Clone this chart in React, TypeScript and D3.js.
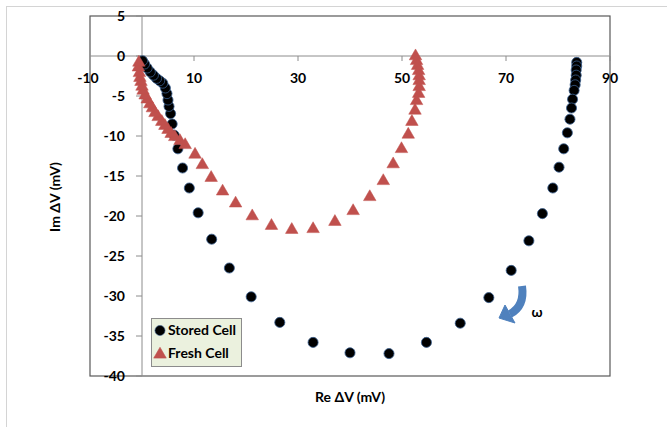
import React, { useEffect, useRef } from 'react';
import * as d3 from 'd3';

// Stored cell (Re, Im) in mV, from low frequency (right) round to the origin
const storedRe = [
	83.6, 83.6, 83.5, 83.5, 83.4, 83.3, 83.1, 82.8, 82.6, 82.3, 81.8, 81.1, 80.2,
	79.0, 77.0, 74.4, 71.0, 66.7, 61.2, 54.7, 47.5, 40.0, 32.9, 26.5, 21.0, 16.8,
	13.4, 10.8, 9.1, 7.8, 6.9, 6.2, 5.8, 5.5, 5.2, 5.0, 4.8, 4.5, 4.0, 3.4, 2.8,
	2.2, 1.6, 1.0, 0.5, 0.1,
];
const storedIm = [
	-0.8, -1.25, -1.75, -2.4, -3.0, -3.6, -4.3, -5.4, -6.5, -7.9, -9.6, -11.6,
	-13.9, -16.5, -19.7, -23.1, -26.8, -30.2, -33.4, -35.8, -37.2, -37.1, -35.8,
	-33.3, -30.1, -26.5, -22.9, -19.6, -16.5, -14.0, -11.6, -9.9, -8.5, -7.2,
	-6.3, -5.5, -4.7, -4.0, -3.4, -3.1, -2.8, -2.4, -2.0, -1.5, -1.0, -0.6,
];

// Fresh cell (Re, Im) in mV
const freshRe = [
	52.6, 52.8, 53.0, 53.2, 53.3, 53.3, 53.3, 53.2, 52.8, 52.5, 51.9, 51.2, 49.9,
	48.3, 46.4, 43.8, 40.6, 37.1, 32.9, 28.8, 24.9, 21.2, 18.0, 15.5, 13.3, 11.6,
	10.2, 8.3, 7.3, 6.3, 5.6, 5.0, 4.4, 3.8, 3.1, 2.5, 2.0, 1.5, 1.0, 0.6, 0.2,
	0.0, -0.2, -0.4, -0.5, -0.7, -0.6,
];
const freshIm = [
	0.1, -0.5, -1.1, -1.75, -2.4, -3.0, -3.75, -4.6, -5.5, -6.7, -8.1, -9.7,
	-11.5, -13.4, -15.5, -17.5, -19.25, -20.6, -21.5, -21.6, -21.1, -19.9, -18.3,
	-16.8, -15.1, -13.5, -12.2, -11.0, -10.5, -10.0, -9.6, -9.1, -8.6, -8.1, -7.5,
	-7.0, -6.4, -5.9, -5.3, -4.8, -4.2, -3.7, -3.1, -2.6, -2.0, -1.3, -0.7,
];

const xTicks = [-10, 10, 30, 50, 70, 90];
const yTicks = [5, 0, -5, -10, -15, -20, -25, -30, -35, -40];
const seriesNames = ['Stored Cell', 'Fresh Cell'];

const App: React.FC = () => {
	const ref = useRef<SVGSVGElement>(null);

	const width = 667;
	const height = 427;
	const font = 'Lato, "Open Sans", sans-serif';
	const fontSize = '14px';

	useEffect(() => {
		if (!ref.current) return;
		const svg = d3.select(ref.current);
		svg.selectAll('*').remove();

		const x = d3.scaleLinear().domain([-10, 90]).range([90, 610]);
		const y = d3.scaleLinear().domain([5, -40]).range([16, 376]);

		// outer chart frame
		svg
			.append('rect')
			.attr('x', 6.5)
			.attr('y', 6.5)
			.attr('width', 720)
			.attr('height', 460)
			.attr('fill', 'white')
			.attr('stroke', '#d4d4d4');

		// plot area border
		svg
			.append('rect')
			.attr('x', x(-10))
			.attr('y', y(5))
			.attr('width', x(90) - x(-10))
			.attr('height', y(-40) - y(5))
			.attr('fill', 'none')
			.attr('stroke', '#595959')
			.attr('stroke-width', 1.2);

		// axes crossing at 0
		const axisColor = '#8c8c8c';
		svg
			.append('line')
			.attr('x1', x(-10))
			.attr('x2', x(90))
			.attr('y1', y(0))
			.attr('y2', y(0))
			.attr('stroke', axisColor);
		svg
			.append('line')
			.attr('x1', x(0))
			.attr('x2', x(0))
			.attr('y1', y(5))
			.attr('y2', y(-40))
			.attr('stroke', axisColor);

		// x ticks + labels
		xTicks.forEach((t) => {
			if (t > -10) {
				svg
					.append('line')
					.attr('x1', x(t))
					.attr('x2', x(t))
					.attr('y1', y(0))
					.attr('y2', y(0) + 5)
					.attr('stroke', axisColor);
			}
			svg
				.append('text')
				.attr('x', x(t) - (t < 0 ? 2 : 0))
				.attr('y', y(0) + 22)
				.attr('dy', '0.35em')
				.attr('text-anchor', 'middle')
				.attr('font-family', font)
				.attr('font-weight', 'bold')
				.attr('font-size', fontSize)
				.attr('fill', '#000')
				.text(t);
		});

		// y ticks + labels
		yTicks.forEach((t) => {
			svg
				.append('line')
				.attr('x1', x(0) - 6)
				.attr('x2', x(0))
				.attr('y1', y(t))
				.attr('y2', y(t))
				.attr('stroke', axisColor);
			svg
				.append('text')
				.attr('x', 125)
				.attr('y', y(t))
				.attr('dy', '0.35em')
				.attr('text-anchor', 'end')
				.attr('font-family', font)
				.attr('font-weight', 'bold')
				.attr('font-size', fontSize)
				.attr('fill', '#000')
				.text(t);
		});

		// axis titles
		svg
			.append('text')
			.attr('transform', 'translate(55,197) rotate(-90)')
			.attr('dy', '0.35em')
			.attr('text-anchor', 'middle')
			.attr('font-family', font)
			.attr('font-weight', 'bold')
			.attr('font-size', fontSize)
			.text('Im ΔV (mV)');
		svg
			.append('text')
			.attr('x', 350)
			.attr('y', 397)
			.attr('dy', '0.35em')
			.attr('text-anchor', 'middle')
			.attr('font-family', font)
			.attr('font-weight', 'bold')
			.attr('font-size', fontSize)
			.text('Re ΔV (mV)');

		const stored = storedRe.map((re, i) => [re, storedIm[i]]);
		const fresh = freshRe.map((re, i) => [re, freshIm[i]]);

		const circle = d3.symbol().type(d3.symbolCircle).size(80);
		const triangle = d3.symbol().type(d3.symbolTriangle).size(68);

		svg
			.append('g')
			.selectAll('path')
			.data(stored)
			.enter()
			.append('path')
			.attr('d', circle)
			.attr('transform', (d) => `translate(${x(d[0])},${y(d[1])})`)
			.attr('fill', '#000')
			.attr('stroke', '#3a5f8f')
			.attr('stroke-width', 0.8);

		svg
			.append('g')
			.selectAll('path')
			.data(fresh)
			.enter()
			.append('path')
			.attr('d', triangle)
			.attr('transform', (d) => `translate(${x(d[0])},${y(d[1]) + 1})`)
			.attr('fill', '#c0504d')
			.attr('stroke', '#c0504d')
			.attr('stroke-width', 0.5);

		// frequency arrow
		const arrow = svg.append('g');
		arrow
			.append('path')
			.attr('d', 'M522,286 Q525,306 510,314')
			.attr('fill', 'none')
			.attr('stroke', '#4f81bd')
			.attr('stroke-width', 8);
		arrow
			.append('path')
			.attr('d', 'M499,318 L505,305 L515,323 Z')
			.attr('fill', '#4f81bd')
			.attr('stroke', '#4f81bd')
			.attr('stroke-width', 1);
		svg
			.append('text')
			.attr('x', 537)
			.attr('y', 312)
			.attr('dy', '0.35em')
			.attr('text-anchor', 'middle')
			.attr('font-family', font)
			.attr('font-weight', 'bold')
			.attr('font-size', fontSize)
			.text('ω');

		// legend
		const legend = svg.append('g');
		legend
			.append('rect')
			.attr('x', 151.5)
			.attr('y', 318.5)
			.attr('width', 90)
			.attr('height', 48)
			.attr('fill', '#ebf1de')
			.attr('stroke', '#8c8c8c');
		seriesNames.forEach((name, i) => {
			const cy = 330.5 + i * 23;
			legend
				.append('path')
				.attr('d', i === 0 ? circle : triangle)
				.attr('transform', `translate(160,${cy + (i === 1 ? 1 : 0)})`)
				.attr('fill', i === 0 ? '#000' : '#c0504d')
				.attr('stroke', i === 0 ? '#3a5f8f' : '#c0504d')
				.attr('stroke-width', 0.6);
			legend
				.append('text')
				.attr('x', 168)
				.attr('y', cy)
				.attr('dy', '0.35em')
				.attr('font-family', font)
				.attr('font-weight', 'bold')
				.attr('font-size', fontSize)
				.text(name);
		});
	}, []);

	return (
		<svg
			ref={ref}
			width={width}
			height={height}
			style={{ position: 'absolute', left: 0, top: 0, background: 'white' }}></svg>
	);
};

export default App;
